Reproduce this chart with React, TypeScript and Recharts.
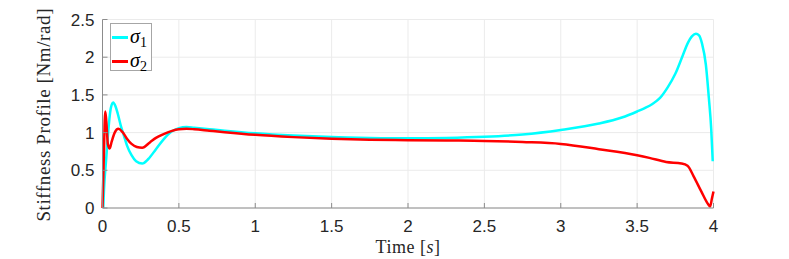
import * as React from 'react'

import {
  LineChart,
  Line,
  XAxis,
  YAxis,
  CartesianGrid,
  Legend,
} from 'recharts'

// time samples and stiffness values
const sigma1Time = [
  0.005, 0.01, 0.023, 0.035, 0.045, 0.055, 0.07, 0.085, 0.1, 0.12, 0.14, 0.16,
  0.19, 0.22, 0.26, 0.3, 0.35, 0.4, 0.45, 0.5, 0.55, 0.6, 0.7, 0.8, 1.0, 1.25,
  1.5, 1.75, 2.0, 2.25, 2.5, 2.75, 3.0, 3.25, 3.4, 3.5, 3.55, 3.6, 3.65, 3.7,
  3.75, 3.8, 3.83, 3.86, 3.885, 3.905, 3.925, 3.95, 3.97, 3.985, 3.995,
]
const sigma1Value = [
  0, 0.25, 0.62, 0.95, 1.18, 1.33, 1.4, 1.35, 1.25, 1.09, 0.96, 0.83, 0.7,
  0.62, 0.59, 0.65, 0.78, 0.91, 1.01, 1.06, 1.075, 1.065, 1.045, 1.025, 0.99,
  0.96, 0.94, 0.93, 0.925, 0.93, 0.945, 0.975, 1.035, 1.12, 1.2, 1.28, 1.325,
  1.38, 1.46, 1.6, 1.78, 2.03, 2.18, 2.28, 2.31, 2.29, 2.18, 1.9, 1.45, 1.05,
  0.62,
]

const sigma2Time = [
  0, 0.008, 0.018, 0.025, 0.035, 0.047, 0.06, 0.08, 0.104, 0.13, 0.16, 0.19,
  0.225, 0.26, 0.31, 0.35, 0.4, 0.45, 0.5, 0.55, 0.6, 0.7, 0.8, 1.0, 1.25, 1.5,
  1.75, 2.0, 2.25, 2.5, 2.75, 3.0, 3.25, 3.5, 3.58, 3.69, 3.79, 3.83, 3.87,
  3.92, 3.965, 3.978, 3.99, 4.0,
]
const sigma2Value = [
  0, 0.62, 1.28, 1.15, 0.85, 0.79, 0.88, 1.0, 1.05, 1.01, 0.92, 0.85, 0.81,
  0.8, 0.87, 0.93, 0.98, 1.02, 1.045, 1.05, 1.045, 1.025, 1.005, 0.97, 0.94,
  0.918, 0.905, 0.9, 0.895, 0.89, 0.875, 0.85, 0.78, 0.7, 0.665, 0.61, 0.59,
  0.56, 0.42, 0.22, 0.05, 0.02, 0.13, 0.22,
]

const xTicks = [0, 0.5, 1, 1.5, 2, 2.5, 3, 3.5, 4]
const yTicks = [0, 0.5, 1, 1.5, 2, 2.5]

const sigma1 = sigma1Time.map((t, i) => ({ t, value: sigma1Value[i] }))
const sigma2 = sigma2Time.map((t, i) => ({ t, value: sigma2Value[i] }))

const axisColor = '#8c8c8c'
const tickFont = { fontFamily: 'Liberation Sans, Arial, sans-serif', fontSize: 17, fill: '#262626' }
const titleFont = 'Liberation Serif, Times New Roman, serif'

function XTitle(props: any) {
  const { viewBox } = props
  const cx = viewBox.x + viewBox.width / 2
  return (
    <text
      x={cx}
      y={253}
      textAnchor="middle"
      fontFamily={titleFont}
      fontSize={18}
      letterSpacing={0.5}
      fill="#262626"
    >
      Time [<tspan fontStyle="italic">s</tspan>]
    </text>
  )
}

function YTitle(props: any) {
  const { viewBox } = props
  const cy = viewBox.y + viewBox.height / 2 + 1
  const cx = 50
  return (
    <text
      x={cx}
      y={cy}
      transform={`rotate(-90, ${cx}, ${cy})`}
      textAnchor="middle"
      fontFamily={titleFont}
      fontSize={19}
      letterSpacing={0.6}
      fill="#262626"
    >
      Stiffness Profile [Nm/rad]
    </text>
  )
}

function LegendBox(props: any) {
  const items = props.payload ?? []
  return (
    <div
      style={{
        width: 40,
        height: 46,
        border: '1px solid #a6a6a6',
        background: '#fff',
        position: 'relative',
      }}
    >
      {items.map((item: any, i: number) => (
        <div
          key={item.value}
          style={{ position: 'absolute', left: 1, top: 3 + i * 24, height: 20, display: 'flex', alignItems: 'center' }}
        >
          <div style={{ width: 16, height: 3, background: item.color }} />
          <span style={{ marginLeft: 2, fontFamily: titleFont, fontSize: 20, color: '#000', lineHeight: '20px' }}>
            <i>{item.value.slice(0, 1)}</i>
            <span style={{ fontSize: 14, position: 'relative', top: 4 }}>{item.value.slice(1)}</span>
          </span>
        </div>
      ))}
    </div>
  )
}

export default function App() {
  return (
    <div style={{ position: 'absolute', left: 0, top: 0, background: '#fff' }}>
      <LineChart width={789} height={259} margin={{ top: 19.5, right: 75.5, bottom: 0, left: 0 }}>
        <CartesianGrid stroke="#ebebeb" strokeWidth={1} xAxisId="bottom" yAxisId="left" />
        <XAxis
          xAxisId="bottom"
          dataKey="t"
          type="number"
          domain={[0, 4]}
          ticks={xTicks}
          height={51}
          stroke={axisColor}
          tickSize={-5}
          tickMargin={17}
          tick={tickFont}
          allowDuplicatedCategory={false}
          label={<XTitle />}
        />
        <XAxis
          xAxisId="top"
          dataKey="t"
          type="number"
          orientation="top"
          domain={[0, 4]}
          ticks={xTicks}
          height={0}
          stroke={axisColor}
          tickSize={-5}
          tick={false}
          allowDuplicatedCategory={false}
        />
        <YAxis
          yAxisId="left"
          type="number"
          domain={[0, 2.5]}
          ticks={yTicks}
          width={102.5}
          stroke={axisColor}
          tickSize={-5}
          tickMargin={13}
          tick={tickFont}
          label={<YTitle />}
        />
        <YAxis
          yAxisId="right"
          orientation="right"
          type="number"
          domain={[0, 2.5]}
          ticks={yTicks}
          width={0}
          stroke={axisColor}
          tickSize={-5}
          tick={false}
        />
        <Legend
          layout="vertical"
          align="center"
          verticalAlign="middle"
          wrapperStyle={{ left: 110, top: 23, width: 42 }}
          content={<LegendBox />}
        />
        <Line
          xAxisId="bottom"
          yAxisId="left"
          data={sigma1}
          dataKey="value"
          name="σ1"
          type="monotone"
          stroke="#00ffff"
          strokeWidth={2.5}
          dot={false}
          isAnimationActive={false}
        />
        <Line
          xAxisId="bottom"
          yAxisId="left"
          data={sigma2}
          dataKey="value"
          name="σ2"
          type="monotone"
          stroke="#ff0000"
          strokeWidth={2.5}
          dot={false}
          isAnimationActive={false}
        />
      </LineChart>
    </div>
  )
}
